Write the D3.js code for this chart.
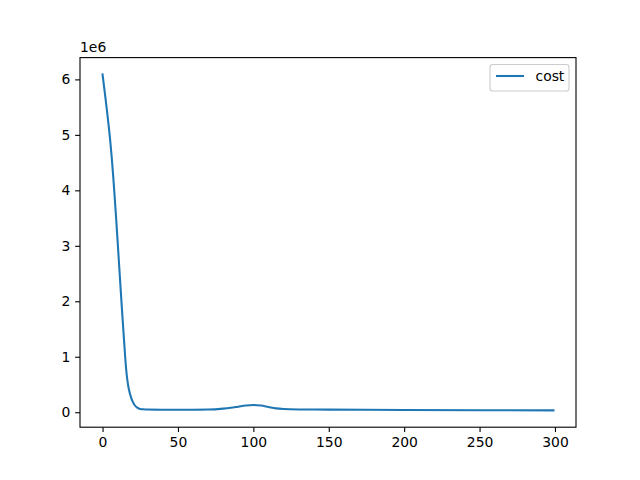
<!DOCTYPE html>
<html><head><meta charset="utf-8">
<script src="https://cdn.jsdelivr.net/npm/d3@7"></script>
<style>body{margin:0;background:#fff}svg{display:block}</style>
</head><body>
<svg id="c" width="640" height="480"></svg>
<script>
const seriesName = "cost";
const xs = [0,1,2,3,4,5,6,7,8,9,10,11,12,13,14,15,16,17,18,19,20,21,22,23,24,25,27,30,40,50,60,70,80,85,90,95,100,105,110,115,120,130,150,200,250,299];
const ys = [6.09,5.87,5.65,5.42,5.18,4.92,4.62,4.28,3.90,3.50,3.08,2.65,2.22,1.80,1.40,1.00,0.68,0.48,0.35,0.26,0.19,0.14,0.105,0.082,0.068,0.06,0.053,0.048,0.045,0.045,0.045,0.048,0.065,0.08,0.10,0.12,0.13,0.12,0.095,0.07,0.058,0.05,0.047,0.040,0.035,0.033].map(v => v * 1e6);
const xTicks = [0,50,100,150,200,250,300];
const yTicks = [0,1e6,2e6,3e6,4e6,5e6,6e6];

const svg = d3.select("#c");
const L = 80, R = 576, T = 57.6, B = 427.2;
const font = "DejaVu Sans, sans-serif";
const fs = 13.9;

const xmin = d3.min(xs), xmax = d3.max(xs), xr = xmax - xmin;
const ymin = d3.min(ys), ymax = d3.max(ys), yr = ymax - ymin;
const x = d3.scaleLinear().domain([xmin - 0.05*xr, xmax + 0.05*xr]).range([L, R]);
const y = d3.scaleLinear().domain([ymin - 0.05*yr, ymax + 0.05*yr]).range([B, T]);

const data = xs.map((d, i) => [d, ys[i]]);
svg.append("path").datum(data)
  .attr("fill", "none").attr("stroke", "#1f77b4").attr("stroke-width", 2.08)
  .attr("stroke-linejoin", "round").attr("stroke-linecap", "square")
  .attr("d", d3.line().x(d => x(d[0])).y(d => y(d[1])).curve(d3.curveMonotoneX));

const xAxis = svg.append("g").attr("transform", `translate(0,${B})`)
  .call(d3.axisBottom(x).tickValues(xTicks).tickSize(4.86).tickPadding(4.86).tickFormat(d3.format("d")));
const yAxis = svg.append("g").attr("transform", `translate(${L},0)`)
  .call(d3.axisLeft(y).tickValues(yTicks).tickSize(4.86).tickPadding(4.86).tickFormat(d => d3.format("d")(d / 1e6)));
[xAxis, yAxis].forEach(g => {
  g.select(".domain").remove();
  g.selectAll(".tick line").attr("stroke", "#000").attr("stroke-width", 1.1);
  g.selectAll(".tick text").attr("fill", "#000").style("font-family", font).style("font-size", fs + "px");
});

svg.append("rect").attr("x", L).attr("y", T).attr("width", R - L).attr("height", B - T)
  .attr("fill", "none").attr("stroke", "#000").attr("stroke-width", 1.1);

svg.append("text").attr("x", L).attr("y", T - 6).text("1e6")
  .style("font-family", font).style("font-size", fs + "px").attr("fill", "#000");

const lg = svg.append("g");
lg.append("rect").attr("x", 490).attr("y", 64.5).attr("width", 79).attr("height", 26.5)
  .attr("rx", 2.8).attr("fill", "#fff").attr("fill-opacity", 0.8)
  .attr("stroke", "#cccccc").attr("stroke-width", 1.1);
lg.append("line").attr("x1", 496).attr("x2", 524).attr("y1", 76).attr("y2", 76)
  .attr("stroke", "#1f77b4").attr("stroke-width", 2.08);
lg.append("text").attr("x", 535.5).attr("y", 81).text(seriesName)
  .style("font-family", font).style("font-size", fs + "px").attr("fill", "#000");
</script>
</body></html>
